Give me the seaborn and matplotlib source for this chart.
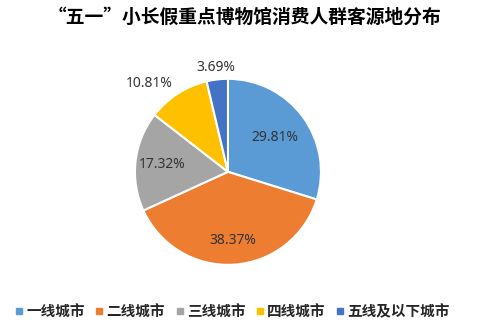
import numpy as np
import matplotlib
matplotlib.use('Agg')
import matplotlib.pyplot as plt
from matplotlib.lines import Line2D
import seaborn as sns

sns.set_style('white')
plt.rcParams['font.family'] = ['Noto Sans CJK SC', 'DejaVu Sans']

title = '“五一”小长假重点博物馆消费人群客源地分布'
categories = ['一线城市', '二线城市', '三线城市', '四线城市', '五线及以下城市']
shares = [29.81, 38.37, 17.32, 10.81, 3.69]
colors = ['#5B9BD5', '#ED7D31', '#A5A5A5', '#FFC000', '#4472C4']
# radial distance of each percentage label (inside for big slices, outside for small ones)
label_dist = [0.62, 0.74, 0.71, 1.28, 1.13]
label_shift = [0, 0, 0, 9, 0]  # extra angle shift in degrees

fig = plt.figure(figsize=(4.98, 3.34), dpi=100)
ax = fig.add_axes([0.271, 0.207, 0.3735, 0.557])

wedges, _ = ax.pie(shares, colors=colors, startangle=90, counterclock=False,
                   radius=1, wedgeprops=dict(edgecolor='white', linewidth=1.5))
ax.set_xlim(-1, 1)
ax.set_ylim(-1, 1)
ax.set_aspect('equal')
ax.axis('off')

for w, v, d, s in zip(wedges, shares, label_dist, label_shift):
    ang = np.deg2rad((w.theta1 + w.theta2) / 2 + s)
    ax.text(d * np.cos(ang), d * np.sin(ang), f'{v:.2f}%', ha='center', va='center',
            fontsize=10, color='#333333', family=['Noto Sans', 'DejaVu Sans'],
            clip_on=False)

fig.text(0.49, 0.948, title, ha='center', va='center', fontsize=13.5, fontweight='bold',
         color='black')

handles = [Line2D([], [], marker='s', linestyle='none', markersize=4,
                  markerfacecolor=c, markeredgecolor=c) for c in colors]
fig.legend(handles, categories, loc='center', bbox_to_anchor=(0.465, 0.068), ncol=5,
           frameon=False, handletextpad=0.1, columnspacing=0.6, handlelength=0.8,
           prop=dict(size=10.5, weight='bold'))

fig.savefig('out.png', dpi=100, facecolor='white')
